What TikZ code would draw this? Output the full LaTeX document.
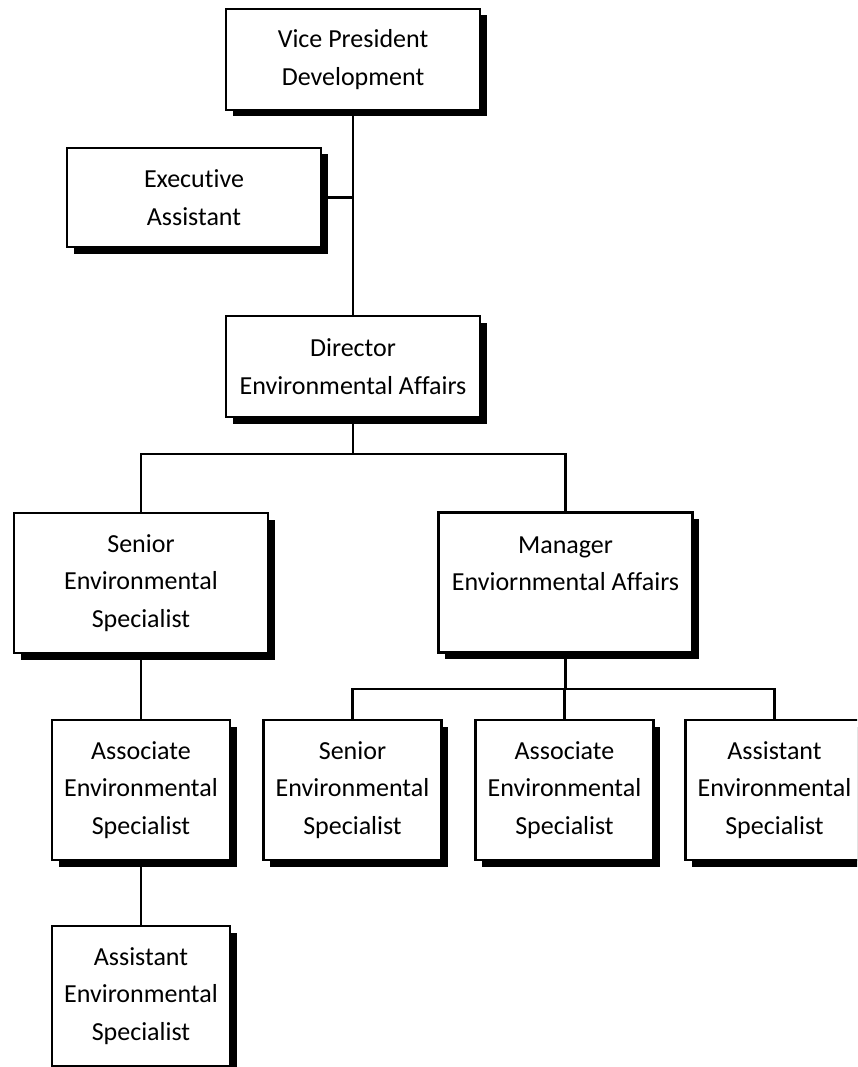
\documentclass[tikz,border=0pt]{standalone}
\usepackage{fontspec}
\setmainfont{Carlito}[Ligatures=NoCommon]
\usetikzlibrary{shadows}
\begin{document}
\begin{tikzpicture}[x=1pt,y=-1pt,
  box/.style={draw=black, line width=2.9pt, fill=white, inner sep=0pt, outer sep=0pt,
    align=center, font=\fontsize{26}{37.5}\selectfont,
    drop shadow={shadow xshift=6.5pt, shadow yshift=-6.5pt, fill=black, opacity=1}},
  wide/.style={box, minimum width=254pt},
  narrow/.style={box, minimum width=178pt, minimum height=140pt},
  link/.style={draw=black, line width=2.5pt}]
\useasboundingbox (0,0) rectangle (857,1067);
\clip (0,0) rectangle (857,1067);
% nodes
\node[wide, minimum height=101pt] (vp) at (353,59.5) {Vice President\\Development};
\node[wide, minimum height=99pt] (ea) at (194,197.5) {Executive\\Assistant};
\node[wide, minimum height=101pt] (dir) at (353,366.5) {Director\\Environmental Affairs};
\node[wide, minimum height=140pt] (ses) at (141,583) {Senior\\Environmental\\Specialist};
\node[wide, minimum height=140pt] (mgr) at (565.5,582.5) {Manager\\Enviornmental Affairs\\\mbox{}};
\node[narrow] (aes) at (141,790) {Associate\\Environmental\\Specialist};
\node[narrow] (ases) at (141,996) {Assistant\\Environmental\\Specialist};
\node[narrow] (rses) at (352.5,790) {Senior\\Environmental\\Specialist};
\node[narrow] (raes) at (564.5,790) {Associate\\Environmental\\Specialist};
\node[narrow] (rass) at (774.5,790) {Assistant\\Environmental\\Specialist};
% junctions
\coordinate (j1) at (353,454);
\coordinate (j2) at (565.5,689);
% connectors
\path[link] (vp.south) -- (dir.north);
\path[link] (ea.east) -- (ea.east -| vp.south);
\path[link] (dir.south) -- (j1);
\path[link] (j1) -| (ses.north);
\path[link] (j1) -| (mgr.north);
\path[link] (mgr.south) -- (j2);
\path[link] (j2) -| (rses.north);
\path[link] (j2) -| (raes.north);
\path[link] (j2) -| (rass.north);
\path[link] (ses.south) -- (aes.north);
\path[link] (aes.south) -- (ases.north);
\end{tikzpicture}
\end{document}
